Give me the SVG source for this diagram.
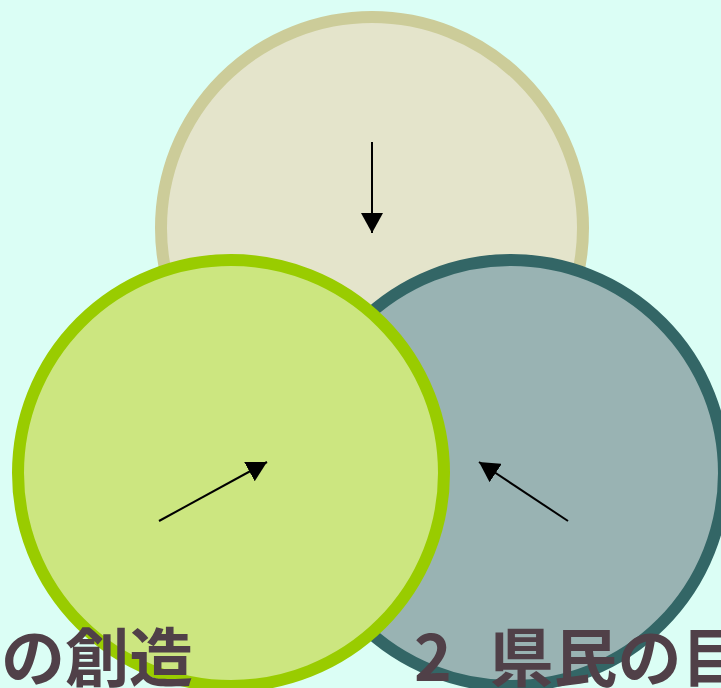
<svg xmlns="http://www.w3.org/2000/svg" width="721" height="688" viewBox="0 0 721 688">
<defs>
<style>
.lbl{font-family:"Noto Sans CJK JP","Noto Sans",sans-serif;font-weight:bold;font-size:64px;fill:#504048}
.conn{stroke:#000;stroke-width:2;fill:none}
</style>
<marker id="ah" markerUnits="userSpaceOnUse" markerWidth="22" markerHeight="22" refX="20" refY="11" orient="auto" viewBox="0 0 22 22">
<path d="M0,0 L20,11 L0,22 z" fill="#000"/>
</marker>
</defs>
<rect width="721" height="688" fill="#dbfef5"/>
<g id="node-top"><circle cx="372" cy="228" r="211" fill="#e4e4cb" stroke="#cccc99" stroke-width="12"/></g>
<g id="node-right"><circle cx="511" cy="473" r="213" fill="#99b3b3" stroke="#336666" stroke-width="12"/></g>
<g id="node-left"><circle cx="231" cy="473" r="213" fill="#cce680" stroke="#99cc00" stroke-width="12"/></g>
<g id="connectors">
<line class="conn" x1="372" y1="142" x2="372" y2="233" marker-end="url(#ah)"/>
<line class="conn" x1="159" y1="521" x2="267" y2="462" marker-end="url(#ah)"/>
<line class="conn" x1="568" y1="521" x2="479" y2="462" marker-end="url(#ah)"/>
</g>
<g id="labels">
<text class="lbl" x="193" y="681" text-anchor="end">の創造</text>
<text class="lbl" x="414" y="681">2<tspan x="475"> 県民の目</tspan></text>
</g>
</svg>
